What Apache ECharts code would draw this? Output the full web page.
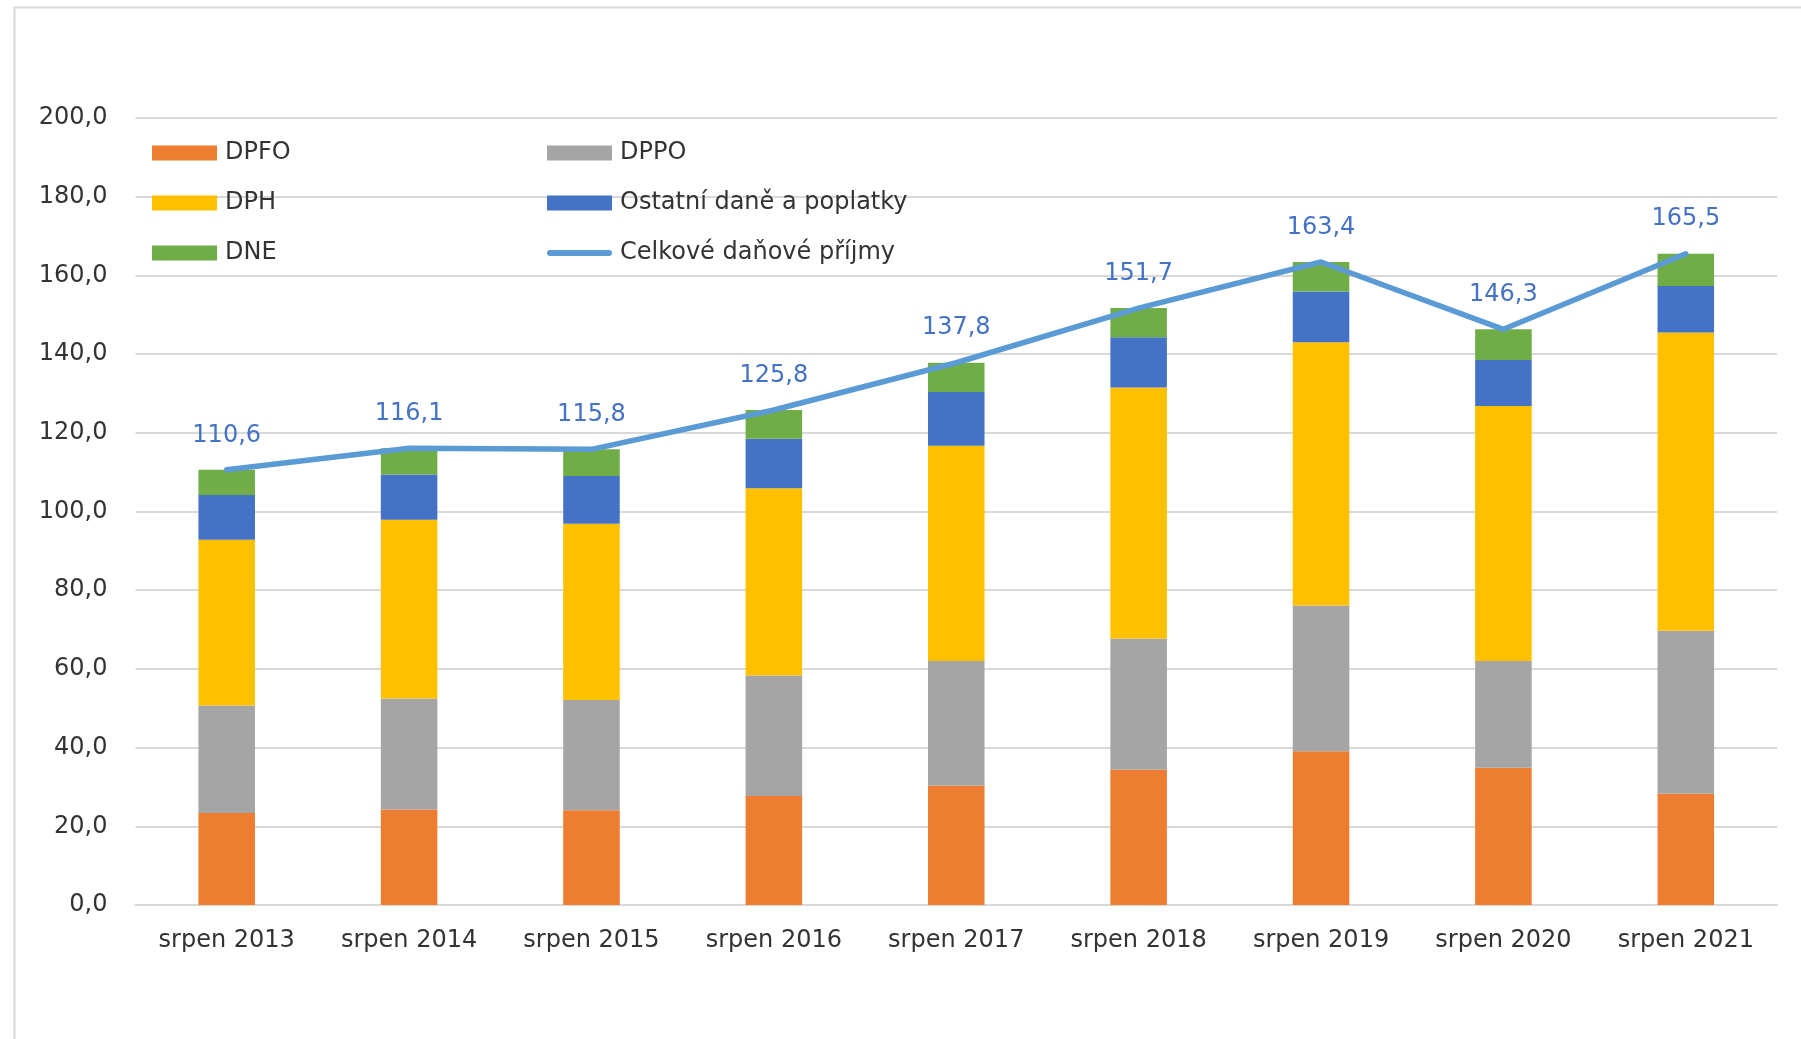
<!DOCTYPE html>
<html>
<head>
<meta charset="utf-8">
<script src="https://cdn.jsdelivr.net/npm/echarts@6/dist/echarts.min.js"></script>
<style>
html,body{margin:0;padding:0;background:#fff;}
#chart{width:1801px;height:1039px;}
</style>
</head>
<body>
<div id="chart"></div>
<script>
var categories = ['srpen 2013','srpen 2014','srpen 2015','srpen 2016','srpen 2017','srpen 2018','srpen 2019','srpen 2020','srpen 2021'];
var dpfo    = [23.4, 24.3, 24.1, 27.7, 30.3, 34.4, 39.1, 34.9, 28.3];
var dppo    = [27.3, 28.2, 28.0, 30.6, 31.7, 33.3, 37.0, 27.1, 41.4];
var dph     = [42.1, 45.4, 44.8, 47.6, 54.7, 63.8, 66.9, 64.8, 75.8];
var ostatni = [11.4, 11.5, 12.1, 12.6, 13.7, 12.8, 12.9, 11.7, 11.8];
var dne     = [6.4, 6.7, 6.8, 7.3, 7.4, 7.4, 7.5, 7.8, 8.2];
var celkem  = [110.6, 116.1, 115.8, 125.8, 137.8, 151.7, 163.4, 146.3, 165.5];
var yTicks  = [0, 20, 40, 60, 80, 100, 120, 140, 160, 180, 200];

var FONT = 'DejaVu Sans';
function fmt(v){ return Number(v).toFixed(1).replace('.', ','); }

var chart = echarts.init(document.getElementById('chart'), null, {renderer:'canvas'});

function barSeries(name, data, color){
  return {
    name: name, type: 'bar', stack: 'total', data: data, barWidth: '31%',
    itemStyle: {color: color}, emphasis: {disabled: true}
  };
}

var legendText = {fontSize: 24, lineHeight: 26, color: '#333333', fontFamily: FONT, padding: [0, 0, 0, 3]};
var lineIcon = 'path://M3,0 L62,0 A3,3 0 0 1 62,6 L3,6 A3,3 0 0 1 3,0 Z';

var option = {
  backgroundColor: '#ffffff',
  animation: false,
  graphic: [{
    type: 'rect', left: 12, top: 5, silent: true,
    shape: {width: 1900, height: 1100},
    style: {fill: 'none', stroke: '#D9D9D9', lineWidth: 2}
  }],
  grid: {left: 135.5, right: 24, top: 118, bottom: 134, containLabel: false},
  legend: [{
    left: 152, top: 140, padding: 0, orient: 'vertical', itemWidth: 65, itemHeight: 15, itemGap: 24,
    selectedMode: false, textStyle: legendText,
    data: [{name:'DPFO', icon:'rect'}, {name:'DPH', icon:'rect'}, {name:'DNE', icon:'rect'}]
  }, {
    left: 547, top: 140, padding: 0, orient: 'vertical', itemWidth: 65, itemHeight: 15, itemGap: 24,
    selectedMode: false, textStyle: legendText,
    data: [{name:'DPPO', icon:'rect'}, {name:'Ostatní daně a poplatky', icon:'rect'}, {name:'Celkové daňové příjmy', icon: lineIcon}]
  }],
  xAxis: {
    type: 'category', data: categories,
    axisLine: {show: true, lineStyle: {color: '#D9D9D9', width: 2}},
    axisTick: {show: false},
    axisLabel: {fontSize: 24, color: '#333333', fontFamily: FONT, margin: 24}
  },
  yAxis: {
    type: 'value', min: yTicks[0], max: yTicks[yTicks.length-1], interval: yTicks[1]-yTicks[0],
    axisLine: {show: false}, axisTick: {show: false},
    splitLine: {lineStyle: {color: '#D9D9D9', width: 2}},
    axisLabel: {fontSize: 24, color: '#333333', fontFamily: FONT, margin: 28, formatter: fmt}
  },
  series: [
    barSeries('DPFO', dpfo, '#ED7D31'),
    barSeries('DPPO', dppo, '#A5A5A5'),
    barSeries('DPH', dph, '#FFC000'),
    barSeries('Ostatní daně a poplatky', ostatni, '#4472C4'),
    barSeries('DNE', dne, '#70AD47'),
    {
      name: 'Celkové daňové příjmy', type: 'line', data: celkem, z: 5,
      symbol: 'circle', symbolSize: 1, showSymbol: true,
      lineStyle: {color: '#5B9BD5', width: 5.5, cap: 'round', join: 'round'},
      itemStyle: {color: '#5B9BD5'},
      label: {show: true, position: 'top', distance: 22, color: '#4472C4', fontSize: 24, fontFamily: FONT,
        formatter: function(p){ return fmt(p.value); }},
      emphasis: {disabled: true}
    }
  ]
};
chart.setOption(option);
</script>
</body>
</html>
